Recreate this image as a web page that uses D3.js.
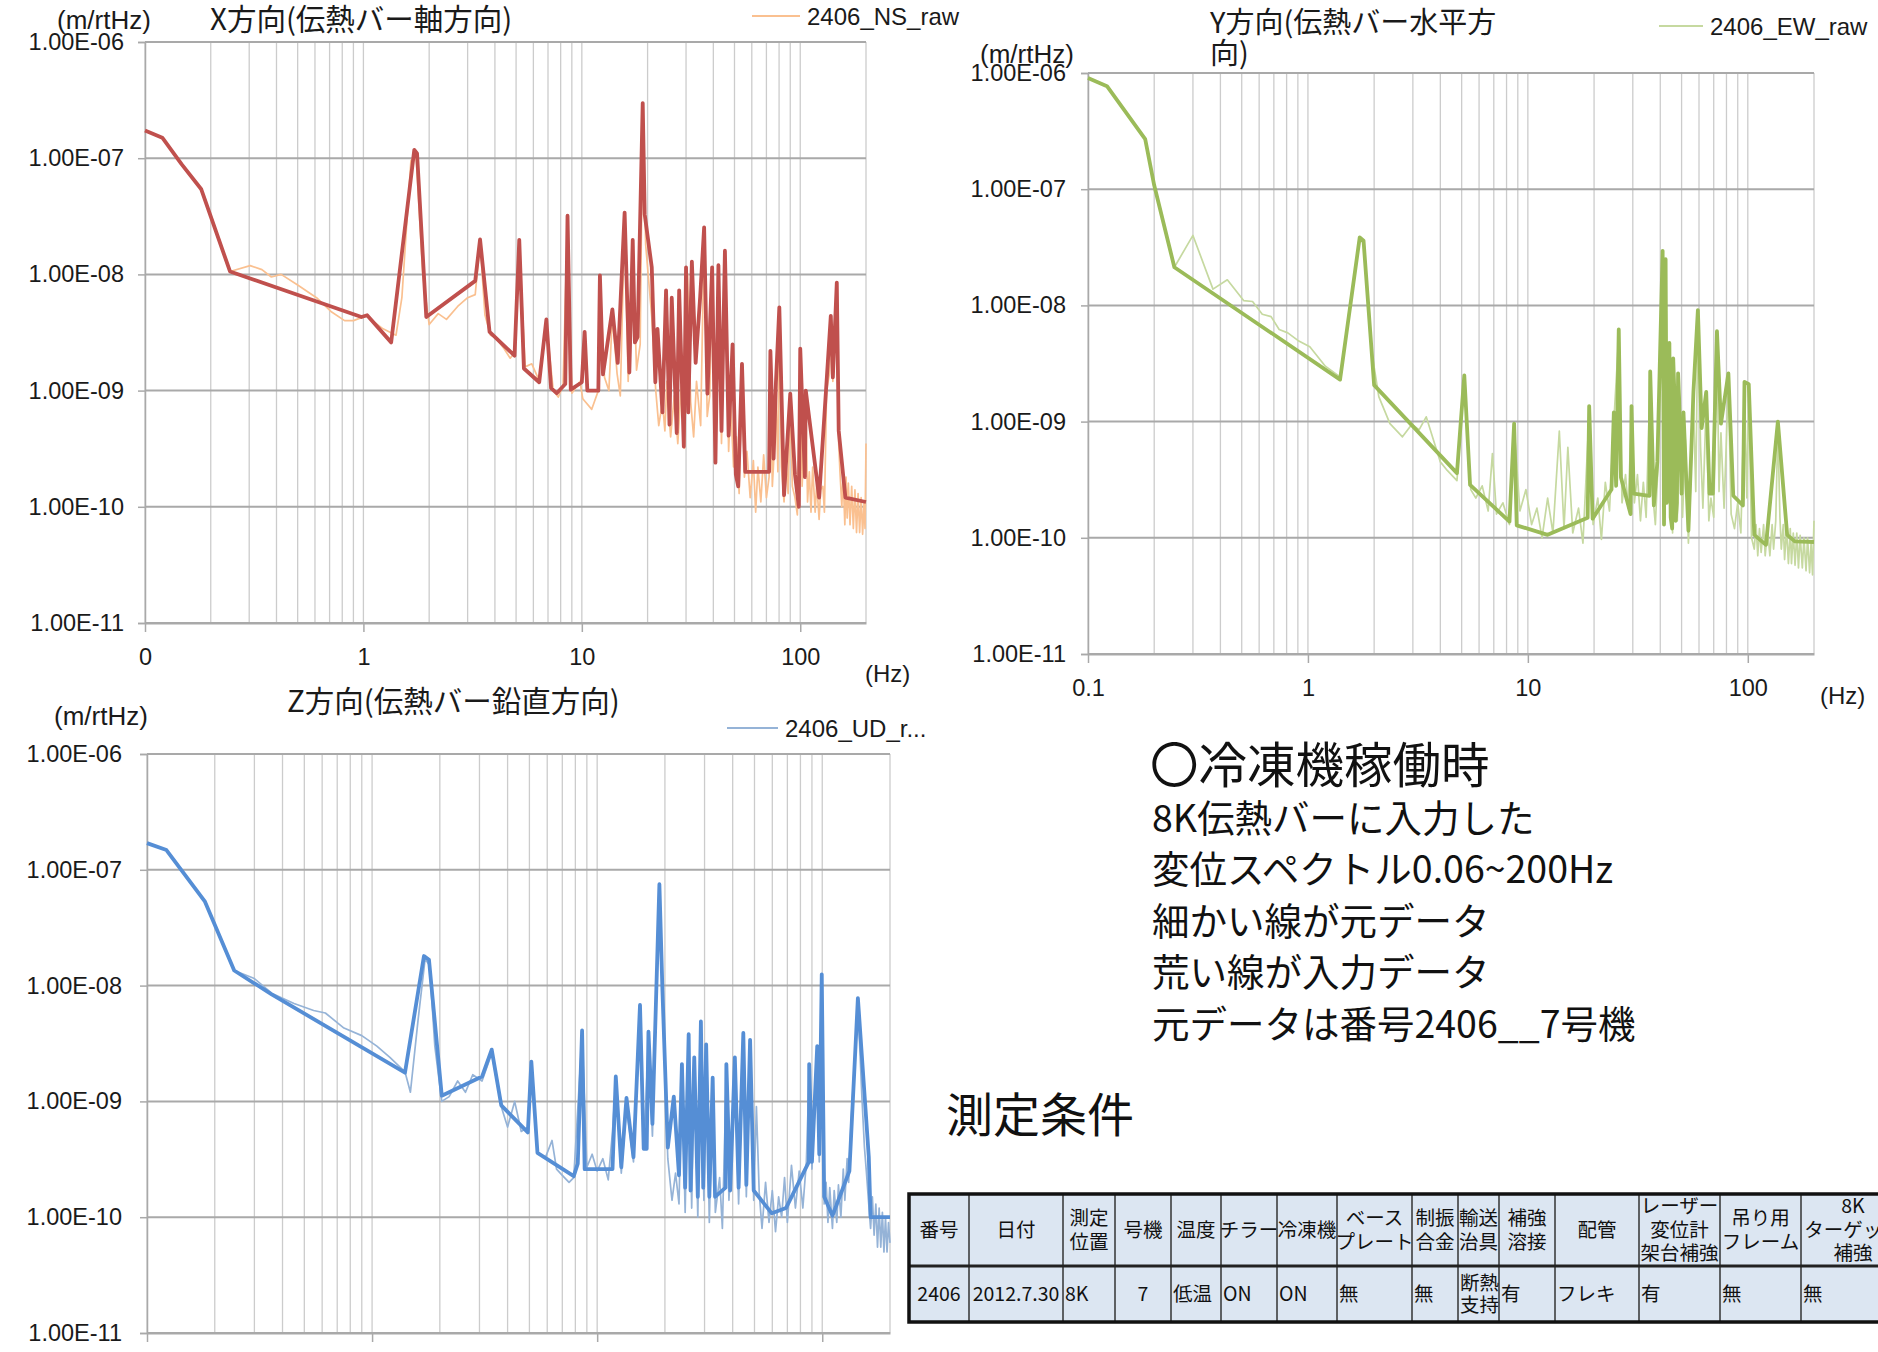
<!DOCTYPE html>
<html>
<head>
<meta charset="utf-8">
<script src="https://cdn.jsdelivr.net/npm/d3@7"></script>
<style>
  body { margin: 0; background: #fff; }
  svg { display: block; }
</style>
</head>
<body>
<script>
// ---- data: [frequency Hz, displacement m/rtHz] ----
var nsInput = [[0.1,1.73e-7],[0.12,1.5e-7],[0.147,8.9e-8],[0.181,5.4e-8],[0.245,1.06e-8],[0.98,4.3e-9],[1.04,4.45e-9],[1.34,2.6e-9],[1.71,1.18e-7],[1.76,1.1e-7],[1.94,4.3e-9],[3.25,8.8e-9],[3.42,2.0e-8],[3.78,3.2e-9],[4.92,2.0e-9],[5.17,1.98e-8],[5.43,1.55e-9],[6.38,1.18e-9],[6.88,4.1e-9],[7.23,1.05e-9],[7.67,9.5e-10],[8.4,1.14e-9],[8.6,3.2e-8],[8.9,1.02e-9],[10,1.18e-9],[10.3,3.2e-9],[10.6,1.0e-9],[11.9,1.0e-9],[12.1,9.8e-9],[12.5,1.38e-9],[13.8,5.0e-9],[14.6,1.73e-9],[15.7,3.4e-8],[16.5,1.43e-9],[17.1,1.98e-8],[17.5,2.6e-9],[18.0,2.9e-9],[19.0,2.98e-7],[19.4,3.3e-8],[20.9,1.15e-8],[21.7,1.18e-9],[22.2,3.4e-9],[23.4,6.5e-10],[24.3,7.3e-9],[25.2,5.1e-10],[25.8,6.3e-9],[27.2,4.3e-10],[27.9,7.3e-9],[29.3,3.3e-10],[30.0,1.15e-8],[30.7,6.5e-10],[31.9,1.29e-8],[33.2,1.73e-9],[34.8,6.3e-9],[36.3,2.54e-8],[37.6,9.4e-10],[39.5,1.15e-8],[40.9,2.4e-10],[42.2,1.2e-8],[43.6,4.5e-10],[45.2,1.6e-8],[47,4.1e-10],[49,2.5e-9],[50.7,1.9e-10],[52,1.5e-10],[54.1,1.7e-9],[56,2.0e-10],[72,2.0e-10],[73,2.2e-9],[75.5,2.6e-10],[77.4,1.18e-9],[80.2,5.2e-9],[84.3,1.26e-10],[90,9.4e-10],[94.6,1.9e-10],[98.5,1.0e-10],[100,2.3e-9],[105,1.8e-10],[106,1.0e-9],[122,1.2e-10],[138,4.4e-9],[141,1.3e-9],[147,8.5e-9],[150,4.5e-10],[161,1.2e-10],[200,1.1e-10]];

var nsRaw = [[0.1,1.73e-7],[0.12,1.5e-7],[0.147,8.9e-8],[0.181,5.4e-8],[0.245,1.06e-8],[0.303,1.19e-8],[0.343,1.1e-8],[0.379,9.5e-9],[0.42,1.0e-8],[0.5,8.1e-9],[0.61,6.3e-9],[0.71,4.8e-9],[0.82,4.0e-9],[0.9,4.0e-9],[1.03,4.4e-9],[1.23,3.4e-9],[1.41,3.0e-9],[1.5,6.3e-9],[1.65,9.5e-8],[1.74,1.1e-7],[1.87,9.9e-9],[2.0,3.7e-9],[2.2,4.6e-9],[2.4,4.1e-9],[2.7,5.3e-9],[3.0,6.3e-9],[3.25,6.7e-9],[3.42,1.9e-8],[3.6,4.5e-9],[3.82,3.0e-9],[4.0,2.9e-9],[4.4,2.3e-9],[4.7,1.9e-9],[4.9,2.1e-9],[5.17,1.8e-8],[5.5,1.6e-9],[5.9,1.7e-9],[6.4,1.2e-9],[6.88,3.8e-9],[7.4,1.0e-9],[7.8,8.8e-10],[8.2,1.1e-9],[8.6,2.9e-8],[9.0,9.5e-10],[9.8,1.2e-9],[10.1,8.5e-10],[11.1,6.9e-10],[11.9,1.0e-9],[12.1,9e-9],[12.7,1.3e-9],[13.3,1.0e-9],[13.8,4.5e-9],[14.5,1.4e-9],[15.0,9e-10],[15.7,3.0e-8],[16.3,1.2e-9],[17.1,1.8e-8],[17.8,1.5e-9],[18.5,2.5e-9],[19.0,2.7e-7],[19.6,1.8e-8],[20.9,4.3e-9],[21.8,1.0e-9],[22.5,5e-10],[23.4,8e-10],[24.0,4.5e-10],[24.5,1.2e-9],[25.5,4e-10],[26.5,9e-10],[27.5,3.5e-10],[28.5,1.1e-9],[29.5,3.2e-10],[30.5,1.0e-8],[31.5,8e-10],[32.5,4e-10],[33.5,1.2e-9],[35,5e-10],[36.3,2.2e-8],[37.5,6e-10],[38.5,9e-10],[39.5,1.0e-8],[41,2.5e-10],[42.2,1.0e-8],[43.6,3.5e-10],[45.2,1.4e-8],[47,3e-10],[48,8e-10],[49.5,2.2e-10],[51,4e-10],[52.5,1.3e-10],[54,1.4e-9],[55.5,1.8e-10],[57,3e-10],[59,1.2e-10],[61,2.5e-10],[62.5,9e-11],[64,2.2e-10],[66,1.1e-10],[68,2.8e-10],[70,1.2e-10],[72,1.8e-10],[73,1.9e-9],[74.5,1.5e-10],[76,3e-10],[77.4,1.0e-9],[79,2e-10],[80.2,4.5e-9],[82,2.2e-10],[84.3,1.1e-10],[86,2.5e-10],[88,1.3e-10],[90,8e-10],[92,1.5e-10],[94.6,1.2e-10],[97,8.5e-11],[100,2.0e-9],[102,1.5e-10],[106,9e-10],[108,1.1e-10],[110,2.0e-10],[112,9e-11],[114,2.2e-10],[117,9e-11],[119,1.6e-10],[122,7.8e-11],[124,1.4e-10],[127,1.5e-10],[129,9e-11],[132,1.0e-9],[136,1.4e-9],[138,3.8e-9],[141,1.2e-9],[147,7.5e-9],[150,3.5e-10],[152,2.0e-10],[155,1.0e-10],[157,1.9e-10],[160,7e-11],[162,1.8e-10],[164,8e-11],[166,1.6e-10],[169,7e-11],[172,1.5e-10],[175,6.5e-11],[178,1.4e-10],[181,6e-11],[184,1.3e-10],[187,6e-11],[190,1.2e-10],[193,5.8e-11],[196,1.1e-10],[198,6.5e-11],[200,3.5e-10]];

var ewInput = [[0.1,9.06e-7],[0.122,7.7e-7],[0.182,2.7e-7],[0.2,1.08e-7],[0.247,2.13e-8],[1.4,2.3e-9],[1.72,3.85e-8],[1.79,3.6e-8],[2.0,2.06e-9],[4.76,3.6e-10],[5.14,2.5e-9],[5.46,2.85e-10],[8.25,1.38e-10],[8.66,9.6e-10],[8.9,1.28e-10],[12.3,1.06e-10],[18.7,1.49e-10],[19.0,1.36e-9],[19.7,1.46e-10],[24.0,2.6e-10],[24.6,1.2e-9],[25.2,2.8e-10],[25.9,6.2e-9],[26.5,3.3e-10],[29.3,1.6e-10],[29.6,1.36e-9],[30.3,2.4e-10],[35.7,2.3e-10],[36.0,2.7e-9],[37.4,1.9e-10],[38.8,4.5e-10],[41.0,2.95e-8],[41.6,1.3e-10],[42.3,2.5e-8],[42.8,2.0e-10],[43.4,5.6e-10],[44.0,4.75e-9],[44.6,1.5e-10],[45.3,1.2e-10],[45.8,3.5e-9],[46.3,1.9e-9],[47.0,1.4e-10],[47.6,2.0e-10],[48.2,2.6e-9],[48.7,1.6e-9],[50,2.4e-10],[51,1.2e-9],[53.7,1.15e-10],[56.6,1.8e-9],[59.3,9.1e-9],[61.7,8.8e-10],[64.7,1.8e-9],[67,2.4e-10],[69.3,2.4e-10],[72.4,6.0e-9],[75.5,9.6e-10],[81.6,2.6e-9],[85.9,2.3e-10],[95,1.9e-10],[96.6,2.2e-9],[101,2.1e-9],[107,1.06e-10],[121,8.7e-11],[137,1.0e-9],[151,1.06e-10],[164,9.3e-11],[200,9.2e-11]];

var ewRaw = [[0.1,9.06e-7],[0.122,7.7e-7],[0.182,2.7e-7],[0.2,1.08e-7],[0.247,2.13e-8],[0.3,4.0e-8],[0.37,1.38e-8],[0.43,1.66e-8],[0.51,1.1e-8],[0.56,1.08e-8],[0.62,8.4e-9],[0.68,8.0e-9],[0.74,6.2e-9],[0.81,5.8e-9],[0.9,5.0e-9],[1.02,4.4e-9],[1.2,3.0e-9],[1.41,2.4e-9],[1.55,1.0e-8],[1.72,3.7e-8],[1.8,3.4e-8],[1.95,4e-9],[2.1,1.64e-9],[2.36,9.6e-10],[2.69,7.4e-10],[2.97,9.5e-10],[3.2,8.5e-10],[3.45,1.1e-9],[4.0,4.5e-10],[4.3,3.8e-10],[4.76,3.1e-10],[5.14,2.2e-9],[5.5,2.6e-10],[5.8,2.2e-10],[6.2,2.8e-10],[6.6,1.7e-10],[6.9,5.3e-10],[7.2,1.6e-10],[7.7,2.0e-10],[8.25,1.3e-10],[8.66,9e-10],[9.2,1.7e-10],[9.8,2.6e-10],[10.4,1.3e-10],[11,1.8e-10],[11.6,1.0e-10],[12.3,2.2e-10],[13,1.1e-10],[13.9,8.3e-10],[14.6,1.2e-10],[15.2,6e-10],[16,1.1e-10],[17,1.8e-10],[17.8,9e-11],[19,1.2e-9],[19.8,1.3e-10],[20.8,2.2e-10],[21.6,9.7e-11],[22.5,3e-10],[23.5,1.7e-10],[24.6,1.0e-9],[25.9,5.5e-9],[26.8,2.0e-10],[27.8,3.5e-10],[28.6,1.8e-10],[29.6,1.2e-9],[30.5,2e-10],[31.5,3.5e-10],[32.5,1.4e-10],[33.5,3e-10],[34.5,1.5e-10],[36,2.4e-9],[37,2.3e-10],[38,1.3e-10],[39,4e-10],[41,2.6e-8],[42.3,2.2e-8],[43.5,3e-10],[44,4e-9],[45.5,1.1e-10],[46.3,1.6e-9],[47.8,1.4e-10],[49,1.3e-9],[50.5,1.5e-10],[52,7e-10],[53.7,9e-11],[55,3e-10],[56.6,1.5e-9],[58,2.5e-10],[59.3,8e-9],[61,6e-10],[62.5,1.8e-10],[64.7,1.5e-9],[66.5,1.4e-10],[68,2.2e-10],[70,1.5e-10],[72.4,5.2e-9],[74,2.5e-10],[75.5,8e-10],[78,1.8e-10],[81.6,2.2e-9],[84,1.6e-10],[87,1.2e-10],[90,2e-10],[93,1.1e-10],[96.6,1.9e-9],[99,2.2e-10],[101,1.8e-9],[104,1.0e-10],[107,8e-11],[109,1.3e-10],[111,7e-11],[113,1.2e-10],[115,7.5e-11],[118,1.3e-10],[120,7e-11],[123,1.2e-10],[126,7e-11],[129,1.3e-10],[131,8e-11],[134,1.4e-10],[137,9e-10],[140,1.5e-10],[142,8e-11],[145,1.3e-10],[147,6.5e-11],[150,1.2e-10],[153,6e-11],[156,1.2e-10],[158,6e-11],[161,1.1e-10],[164,5.8e-11],[167,1.1e-10],[170,5.5e-11],[173,1.05e-10],[177,5.5e-11],[180,1.0e-10],[184,5.2e-11],[187,1.0e-10],[191,5e-11],[194,9e-11],[197,4.8e-11],[200,1.4e-10]];

var udInput = [[0.1,1.7e-7],[0.122,1.48e-7],[0.181,5.3e-8],[0.244,1.35e-8],[0.358,8.4e-9],[1.4,1.77e-9],[1.7,1.8e-8],[1.79,1.67e-8],[2.04,1.12e-9],[3.08,1.64e-9],[3.4,2.8e-9],[3.75,9.25e-10],[4.92,5.4e-10],[5.1,2.2e-9],[5.43,3.6e-10],[7.87,2.26e-10],[8.2,2.9e-10],[8.57,4.1e-9],[8.8,2.6e-10],[11.7,2.6e-10],[12.1,1.64e-9],[12.8,2.7e-10],[13.5,1.07e-9],[14.5,3.3e-10],[15.5,6.8e-9],[16.1,3.9e-10],[16.6,3.9e-10],[16.9,4.0e-9],[17.6,6.4e-10],[18.9,7.5e-8],[19.5,9.1e-9],[20.6,4.0e-10],[21.9,1.1e-9],[23.1,2.3e-10],[23.8,2.1e-9],[24.6,1.8e-10],[25.5,3.8e-9],[26.0,1.7e-10],[27.0,2.4e-9],[28.0,1.5e-10],[28.9,4.9e-9],[29.6,1.8e-10],[30.5,3.1e-9],[31.5,1.5e-10],[32.6,1.6e-9],[33.4,1.5e-10],[37.2,1.8e-10],[37.5,2.1e-9],[39,1.7e-10],[40.9,2.4e-9],[42.5,1.8e-10],[44.6,3.9e-9],[46,1.9e-10],[47.8,3.4e-9],[49.6,1.7e-10],[59.7,1.08e-10],[69,1.2e-10],[87.2,3.0e-10],[87.5,2.1e-9],[90,3.0e-10],[95,3.0e-9],[97,3.5e-10],[99.5,1.25e-8],[102,1.5e-10],[111,1.03e-10],[132,2.5e-10],[144,7.8e-9],[161,3.3e-10],[164,1.0e-10],[200,1.0e-10]];

var udRaw = [[0.1,1.7e-7],[0.122,1.48e-7],[0.181,5.3e-8],[0.244,1.35e-8],[0.3,1.15e-8],[0.358,8.6e-9],[0.45,7.0e-9],[0.55,6.1e-9],[0.62,5.8e-9],[0.75,4.3e-9],[0.9,3.7e-9],[1.05,3.0e-9],[1.2,2.4e-9],[1.4,1.8e-9],[1.48,1.2e-9],[1.6,5e-9],[1.72,1.7e-8],[1.8,1.5e-8],[1.9,3e-9],[2.04,1.0e-9],[2.2,1.1e-9],[2.4,1.5e-9],[2.6,1.2e-9],[2.8,1.7e-9],[3.08,1.5e-9],[3.4,2.6e-9],[3.75,9e-10],[4.0,6e-10],[4.3,1.0e-9],[4.6,5.5e-10],[4.92,6e-10],[5.1,2.0e-9],[5.43,3.6e-10],[5.9,3.3e-10],[6.3,4.6e-10],[6.6,2.6e-10],[7.0,2.3e-10],[7.5,2.0e-10],[7.87,2.2e-10],[8.57,3.7e-9],[9,2.7e-10],[9.5,3.5e-10],[10,2.5e-10],[10.6,3.2e-10],[11.2,2.1e-10],[11.7,5.5e-10],[12.1,1.5e-9],[12.8,2.4e-10],[13.5,9e-10],[14.5,3.0e-10],[15.5,6.0e-9],[16.2,4.5e-10],[16.9,3.6e-9],[17.6,5e-10],[18.9,6.8e-8],[19.5,8e-9],[20.6,3.2e-10],[21.5,1.4e-10],[22.3,2.4e-10],[23.1,1.3e-10],[23.8,1.8e-9],[24.6,1.1e-10],[25.5,3.3e-9],[26.3,1.2e-10],[27.0,2.1e-9],[28.0,1.0e-10],[28.9,4.2e-9],[29.8,1.4e-10],[30.5,2.7e-9],[31.5,9e-11],[32.6,1.4e-9],[33.5,1.1e-10],[35,2.2e-10],[36,8e-11],[37.5,1.8e-9],[38.5,1.4e-10],[40.9,2.1e-9],[42.5,1.3e-10],[44.6,3.4e-9],[46,1.5e-10],[47.8,3.0e-9],[49.6,1.4e-10],[51,9e-10],[52.5,1.6e-10],[54,8e-11],[56,2e-10],[58,9e-11],[60,1.7e-10],[62,7.5e-11],[64,1.5e-10],[66,1.0e-10],[68,2.2e-10],[70,9e-11],[73,2.8e-10],[76,1.2e-10],[79,2.5e-10],[82,1.2e-10],[85,3e-10],[87.5,1.8e-9],[90,2.6e-10],[95,2.6e-9],[97,3e-10],[99.5,1.1e-8],[102,1.3e-10],[104,2.0e-10],[106,9e-11],[108,1.8e-10],[111,8e-11],[113,1.7e-10],[116,9e-11],[118,1.9e-10],[121,1.0e-10],[124,2.6e-10],[126,1.4e-10],[129,3.2e-10],[131,2.0e-10],[134,6e-10],[136,1.0e-9],[144,7e-9],[150,1.1e-9],[154,4e-10],[157,2.5e-10],[160,1.5e-10],[164,8e-11],[167,1.5e-10],[170,7e-11],[173,1.3e-10],[176,5.5e-11],[179,1.2e-10],[182,5.5e-11],[185,1.1e-10],[188,5e-11],[191,1.0e-10],[194,5e-11],[197,9e-11],[200,6e-11]];

var yTicks = [1e-11, 1e-10, 1e-9, 1e-8, 1e-7, 1e-6];
var xTicks = [0.1, 1, 10, 100];
var xLabelsA = ['0', '1', '10', '100'];
var xLabelsB = ['0.1', '1', '10', '100'];
var xLabelsNone = ['', '', '', ''];   // bottom chart: labels fall below the picture

var noteLines = ['8K伝熱バーに入力した', '変位スペクトル0.06~200Hz', '細かい線が元データ', '荒い線が入力データ', '元データは番号2406__7号機'];
var tableHead = [['番号'], ['日付'], ['測定', '位置'], ['号機'], ['温度'], ['チラー'], ['冷凍機'], ['ベース', 'プレート'], ['制振', '合金'], ['輸送', '治具'], ['補強', '溶接'], ['配管'], ['レーザー', '変位計', '架台補強'], ['吊り用', 'フレーム'], ['8K', 'ターゲット', '補強']];
var tableRow = [['2406'], ['2012.7.30'], ['8K'], ['7'], ['低温'], ['ON'], ['ON'], ['無'], ['無'], ['断熱', '支持'], ['有'], ['フレキ'], ['有'], ['無'], ['無']];

// ---- drawing ----
var W = 1878, H = 1352;
var NUM = '"Liberation Sans Narrow", "Liberation Sans", Arial, sans-serif';
var JP = '"Noto Sans CJK JP", sans-serif';

var svg = d3.select('body').append('svg').attr('width', W).attr('height', H);

function fmtE(d) {
    // 1e-6 -> 1.00E-06
    var s = d.toExponential(2).toUpperCase();
    return s.replace(/E([+-])(\d)$/, 'E$10$2');
}

// one <text> per cell, lines as tspans
function multiText(parent, lines, x, cy, lh, anchor, size) {
    var t = parent.append('text').attr('text-anchor', anchor)
        .attr('font-family', JP).attr('font-size', size).attr('fill', '#111');
    var top = cy - (lines.length - 1) * lh / 2 + size * 0.35;
    lines.forEach(function (s, j) {
        t.append('tspan').attr('x', x).attr('y', top + j * lh).text(s);
    });
    return t;
}

function drawPanel(p) {
    var x = d3.scaleLog().domain([0.1, 200]).range([p.x0, p.x1]);
    var y = d3.scaleLog().domain([1e-11, 1e-6]).range([p.y1, p.y0]);
    var g = svg.append('g');

    // vertical grid (every 1..9 of each decade)
    g.append('g').selectAll('line').data(x.ticks()).join('line')
        .attr('x1', function (d) { return x(d); }).attr('x2', function (d) { return x(d); })
        .attr('y1', p.y0).attr('y2', p.y1)
        .attr('stroke', '#cccccc').attr('stroke-width', 1.3);

    // horizontal grid at decades
    g.append('g').selectAll('line').data(yTicks).join('line')
        .attr('x1', p.x0).attr('x2', p.x1)
        .attr('y1', function (d) { return y(d); }).attr('y2', function (d) { return y(d); })
        .attr('stroke', '#a9a9a9').attr('stroke-width', 2);

    // y axis
    var ya = g.append('g').attr('transform', 'translate(' + p.x0 + ',0)')
        .call(d3.axisLeft(y).tickValues(yTicks).tickFormat(fmtE).tickSize(7).tickPadding(p.yPad));
    ya.select('.domain').attr('stroke', '#a9a9a9').attr('stroke-width', 1.5);
    ya.selectAll('.tick line').attr('stroke', '#a9a9a9').attr('stroke-width', 1.5);
    ya.selectAll('.tick text').attr('font-family', NUM).attr('font-size', 23.5).attr('fill', '#1a1a1a');

    // x axis
    var xa = g.append('g').attr('transform', 'translate(0,' + p.y1 + ')')
        .call(d3.axisBottom(x).tickValues(xTicks).tickFormat(function (d, i) { return p.xLabels[i]; })
            .tickSize(9).tickPadding(p.xPad).tickSizeOuter(0));
    xa.select('.domain').attr('stroke', '#a9a9a9').attr('stroke-width', 2);
    xa.selectAll('.tick line').attr('stroke', '#a9a9a9').attr('stroke-width', 1.5);
    xa.selectAll('.tick text').attr('font-family', NUM).attr('font-size', 23.5).attr('fill', '#1a1a1a');

    var line = d3.line().x(function (d) { return x(d[0]); }).y(function (d) { return y(d[1]); });

    g.append('path').datum(p.raw).attr('d', line)
        .attr('fill', 'none').attr('stroke', p.rawColor).attr('stroke-width', 1.7)
        .attr('stroke-linejoin', 'round');
    g.append('path').datum(p.input).attr('d', line)
        .attr('fill', 'none').attr('stroke', p.color).attr('stroke-width', 3.8)
        .attr('stroke-linejoin', 'round');

    // title
    var tt = g.append('text').attr('font-family', JP).attr('font-size', p.titleSize).attr('fill', '#1a1a1a');
    p.title.forEach(function (t, i) {
        tt.append('tspan').attr('x', p.titleX).attr('y', p.titleY + i * 31 + p.titleSize * 0.35).text(t);
    });
    // unit labels
    g.append('text').attr('x', p.unitX).attr('y', p.unitY).attr('dominant-baseline', 'central')
        .attr('font-family', NUM).attr('font-size', 26).attr('fill', '#1a1a1a').text('(m/rtHz)');
    g.append('text').attr('x', p.hzX).attr('y', p.hzY).attr('dominant-baseline', 'central')
        .attr('font-family', NUM).attr('font-size', 24).attr('fill', '#1a1a1a').text('(Hz)');
    // legend
    g.append('line').attr('x1', p.legX).attr('x2', p.legX + p.legW)
        .attr('y1', p.legY).attr('y2', p.legY)
        .attr('stroke', p.rawColor).attr('stroke-width', 2);
    g.append('text').attr('x', p.legX + p.legW + 7).attr('y', p.legY).attr('dominant-baseline', 'central')
        .attr('font-family', NUM).attr('font-size', 24).attr('fill', '#1a1a1a').text(p.legend);
}

drawPanel({
    x0: 145, x1: 866, y0: 42, y1: 623, yPad: 14, xPad: 16, xLabels: xLabelsA,
    raw: nsRaw, input: nsInput, color: '#c0504d', rawColor: '#fac090',
    title: ['X方向(伝熱バー軸方向)'], titleSize: 29.5, titleX: 210, titleY: 20, unitX: 57, unitY: 20,
    hzX: 865, hzY: 673, legX: 752, legY: 16, legW: 48, legend: '2406_NS_raw'
});
drawPanel({
    x0: 1088, x1: 1814, y0: 73, y1: 654, yPad: 15, xPad: 16, xLabels: xLabelsB,
    raw: ewRaw, input: ewInput, color: '#9bbb59', rawColor: '#c6d9a0',
    title: ['Y方向(伝熱バー水平方', '向)'], titleSize: 29, titleX: 1210, titleY: 23, unitX: 980, unitY: 54,
    hzX: 1820, hzY: 695, legX: 1659, legY: 26, legW: 44, legend: '2406_EW_raw'
});
drawPanel({
    x0: 147, x1: 890, y0: 754, y1: 1333, yPad: 18, xPad: 16, xLabels: xLabelsNone,
    raw: udRaw, input: udInput, color: '#558ed5', rawColor: '#95b3d7',
    title: ['Z方向(伝熱バー鉛直方向)'], titleSize: 29.5, titleX: 287, titleY: 702, unitX: 54, unitY: 716,
    hzX: 906, hzY: 1362, legX: 727, legY: 728, legW: 51, legend: '2406_UD_r...'
});

// notes
svg.append('text').attr('x', 1150).attr('y', 762).attr('dominant-baseline', 'central')
    .attr('font-family', JP).attr('font-size', 48.5).attr('fill', '#111').text('〇冷凍機稼働時');
noteLines.forEach(function (t, i) {
    svg.append('text').attr('x', 1152).attr('y', 815 + i * 51.5).attr('dominant-baseline', 'central')
        .attr('font-family', JP).attr('font-size', 37.5).attr('fill', '#111').text(t);
});
svg.append('text').attr('x', 946).attr('y', 1111).attr('dominant-baseline', 'central')
    .attr('font-family', JP).attr('font-size', 47).attr('fill', '#111').text('測定条件');

// table
var colEdges = [909, 969, 1063, 1115, 1171, 1221, 1277, 1337, 1412, 1458, 1499, 1555, 1639, 1720, 1801, 1900];
var rowTop = 1194, rowMid = 1266, rowBot = 1322;
var centred = [true, true, false, true, false, false, false, false, false, false, false, false, false, false, false];
var tg = svg.append('g');
tg.append('rect').attr('x', colEdges[0]).attr('y', rowTop)
    .attr('width', colEdges[colEdges.length - 1] - colEdges[0]).attr('height', rowBot - rowTop)
    .attr('fill', '#dce6f2');
tg.selectAll('line.col').data(colEdges.slice(1, -1)).join('line')
    .attr('x1', function (d) { return d; }).attr('x2', function (d) { return d; })
    .attr('y1', rowTop).attr('y2', rowBot).attr('stroke', '#333').attr('stroke-width', 1.5);
tg.append('line').attr('x1', colEdges[0]).attr('x2', W).attr('y1', rowMid).attr('y2', rowMid)
    .attr('stroke', '#222').attr('stroke-width', 3);
tg.append('rect').attr('x', colEdges[0]).attr('y', rowTop)
    .attr('width', colEdges[colEdges.length - 1] - colEdges[0]).attr('height', rowBot - rowTop)
    .attr('fill', 'none').attr('stroke', '#111').attr('stroke-width', 3.5);

tableHead.forEach(function (lines, i) {
    var cx = (colEdges[i] + colEdges[i + 1]) / 2;
    if (i === tableHead.length - 1) cx = colEdges[i] + 52;
    multiText(tg, lines, cx, (rowTop + rowMid) / 2, 23.5, 'middle', 19.5);
});
tableRow.forEach(function (lines, i) {
    var cx = centred[i] ? (colEdges[i] + colEdges[i + 1]) / 2 : colEdges[i] + 2;
    multiText(tg, lines, cx, (rowMid + rowBot) / 2, 22, centred[i] ? 'middle' : 'start', 19.5);
});
</script>
</body>
</html>
